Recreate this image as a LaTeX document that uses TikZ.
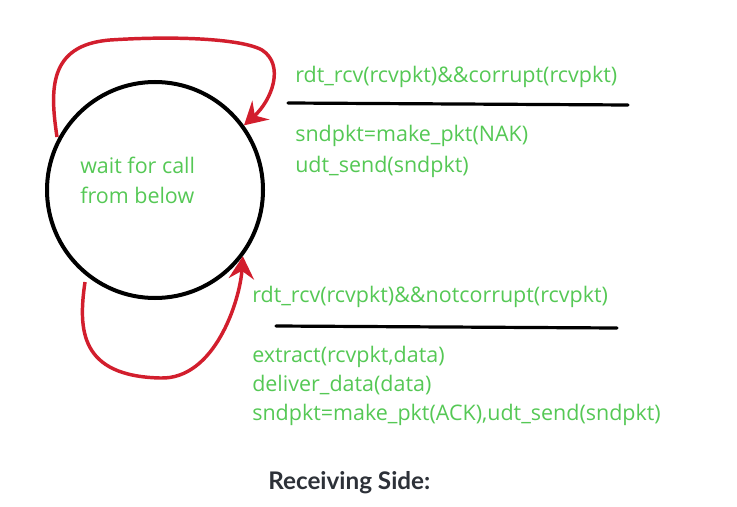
\documentclass[tikz,border=0pt]{standalone}
\usepackage{fontspec}
\setmainfont{Open Sans}
\newfontfamily\labelfont{Lato}
\usetikzlibrary{arrows.meta}
\definecolor{loopred}{RGB}{210,30,45}
\definecolor{txtgreen}{RGB}{85,200,85}
\definecolor{capdark}{RGB}{45,49,56}
\tikzset{
  px/.style={x=0.75pt,y=-0.75pt},
  state/.style={circle,draw=black,line width=3pt,minimum size=162pt,inner sep=0pt},
  loopline/.style={draw=loopred,line width=2.6pt,-{Stealth[length=17pt,width=19pt,inset=6pt]}},
  sepline/.style={draw=black,line width=2.4pt,line cap=round},
  gtext/.style={anchor=base west,inner sep=0pt,text=txtgreen,font=\fontsize{16.1}{19}\selectfont},
  captext/.style={anchor=base west,inner sep=0pt,text=capdark,font=\labelfont\bfseries\fontsize{18.2}{20}\selectfont}
}
\begin{document}
\begin{tikzpicture}[px]
\useasboundingbox (0,0) rectangle (737,506);
\node[state] (s) at (155,190) {};
\node[gtext] (w1) at (80,173) {wait for call};
\node[gtext] (w2) at (80,203) {from below};
% top loop
\coordinate (ts) at (57,137);
\draw[loopline] (ts) .. controls (50,90) and (48,45) .. (110,40)
  .. controls (170,36) and (240,38) .. (262,50)
  .. controls (285,65) and (272,100) .. (s.36);
% bottom loop
\coordinate (bs) at (85,282);
\draw[loopline] (bs) .. controls (78,330) and (80,376) .. (160,378)
  .. controls (215,380) and (240,300) .. (s.-37);
% top label
\node[gtext] (t1) at (295,83) {rdt\_rcv(rcvpkt)\&\&corrupt(rcvpkt)};
\coordinate (tl1) at (288,103);
\coordinate (tl2) at (628,105);
\draw[sepline] (tl1) -- (tl2);
\node[gtext] (t2) at (295,142) {sndpkt=make\_pkt(NAK)};
\node[gtext] (t3) at (295,172) {udt\_send(sndpkt)};
% bottom label
\node[gtext] (b1) at (252,302) {rdt\_rcv(rcvpkt)\&\&notcorrupt(rcvpkt)};
\coordinate (bl1) at (276,326);
\coordinate (bl2) at (617,328);
\draw[sepline] (bl1) -- (bl2);
\node[gtext] (b2) at (252,362) {extract(rcvpkt,data)};
\node[gtext] (b3) at (252,391) {deliver\_data(data)};
\node[gtext] (b4) at (252,420) {sndpkt=make\_pkt(ACK),udt\_send(sndpkt)};
\node[captext] (cap) at (268,489) {Receiving Side:};
\end{tikzpicture}
\end{document}
